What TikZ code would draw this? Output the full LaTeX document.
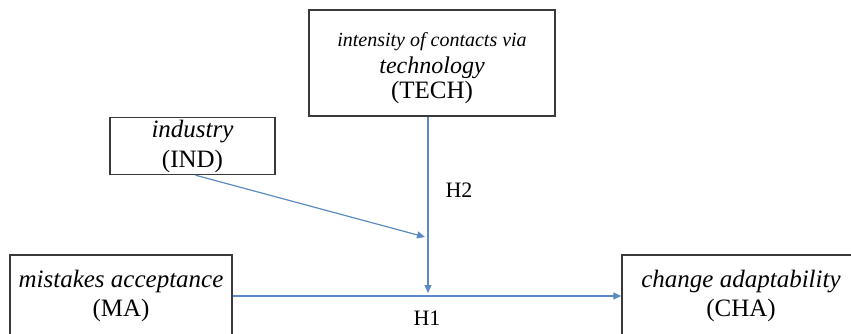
\documentclass[tikz,border=0pt]{standalone}
\usepackage{fontspec}
\setmainfont{Liberation Serif}
\usetikzlibrary{arrows.meta}
\definecolor{arrowblue}{HTML}{5B8BC2}
\definecolor{boxline}{HTML}{3A3A3A}
\tikzset{
  box/.style={draw=boxline, line width=1.4pt, inner sep=0pt, align=center,
    font=\fontsize{25}{29}\selectfont},
  conn/.style={draw=arrowblue, line width=1.2pt},
  tip/.style={-{Triangle[length=8pt,width=7pt]}},
  hlabel/.style={font=\fontsize{22}{26}\selectfont, inner sep=0pt}
}
\begin{document}
\begin{tikzpicture}[x=1pt,y=-1pt]
\useasboundingbox (0,0) rectangle (851,334);
\clip (0,0) rectangle (851,334);
\node[box, minimum width=246pt, minimum height=106pt] (TECH) at (432,63)
  {{\fontsize{20}{25}\selectfont\rule{0pt}{25pt}\itshape intensity of contacts via}\\[-2pt]
   {\fontsize{24}{25}\selectfont\itshape technology}\\[-4pt]
   (TECH)};
\node[box, minimum width=165pt, minimum height=57pt] (IND) at (192.5,146)
  {\textit{industry}\\[1pt](IND)};
\node[box, minimum width=222pt, minimum height=82pt] (MA) at (121,296)
  {\textit{mistakes acceptance}\\(MA)};
\node[box, minimum width=238pt, minimum height=82pt] (CHA) at (741,296)
  {\textit{change adaptability}\\(CHA)};
\coordinate (J) at (428,293);
\coordinate (K) at (425,237);
\draw[conn, tip] (MA.east) -- (CHA.west);
\draw[conn, tip] (TECH.south -| J) -- (J);
\draw[conn, tip] ([xshift=3pt]IND.south) -- (K);
\node[hlabel] (H2) at (459,190) {H2};
\node[hlabel] (H1) at (427,318) {H1};
\end{tikzpicture}
\end{document}
